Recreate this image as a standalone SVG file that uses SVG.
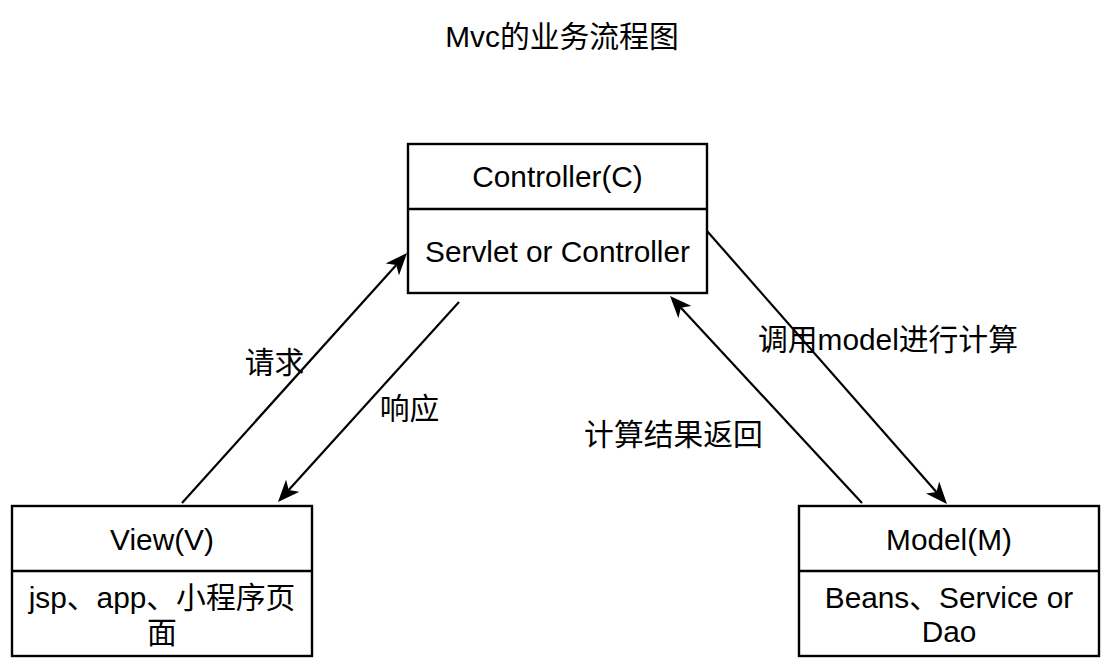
<svg xmlns="http://www.w3.org/2000/svg" width="1115" height="670" viewBox="0 0 1115 670">
<style>
text{font-family:"Liberation Sans","Noto Sans CJK SC",Arial,sans-serif;font-size:29.8px;fill:#000;text-anchor:middle}
.box{fill:#fff;stroke:#000;stroke-width:2.4}
.div{stroke:#000;stroke-width:2.4}
.edge{stroke:#000;stroke-width:2.2;fill:none;marker-end:url(#arr)}
</style>
<defs>
<marker id="arr" markerUnits="userSpaceOnUse" viewBox="0 0 22 18" markerWidth="22" markerHeight="18" refX="6" refY="9" orient="auto">
<path d="M0,0 L22,9 L0,18 L6,9 Z" fill="#000"/>
</marker>
</defs>
<rect width="1115" height="670" fill="#fff"/>
<text id="title" x="562" y="47">Mvc的业务流程图</text>
<g id="connectors">
<line class="edge" x1="182" y1="503" x2="396.3" y2="264.9"/>
<line class="edge" x1="459" y1="302" x2="288.7" y2="490.1"/>
<line class="edge" x1="707" y1="231" x2="936.4" y2="492"/>
<line class="edge" x1="862" y1="503" x2="680.9" y2="307.7"/>
<text x="274.5" y="373">请求</text>
<text x="409.5" y="419">响应</text>
<text x="888" y="350">调用model进行计算</text>
<text x="673.5" y="445">计算结果返回</text>
</g>
<g id="controller">
<rect class="box" x="408" y="144" width="299" height="149"/>
<line class="div" x1="408" y1="209" x2="707" y2="209"/>
<text x="557.5" y="187">Controller(C)</text>
<text x="557.5" y="262">Servlet or Controller</text>
</g>
<g id="view">
<rect class="box" x="12" y="506" width="300" height="150"/>
<line class="div" x1="12" y1="571" x2="312" y2="571"/>
<text x="162" y="550">View(V)</text>
<text x="162" y="608">jsp、app、小程序页</text>
<text x="162" y="643">面</text>
</g>
<g id="model">
<rect class="box" x="799" y="506" width="300" height="150"/>
<line class="div" x1="799" y1="571" x2="1099" y2="571"/>
<text x="949" y="550">Model(M)</text>
<text x="949" y="608">Beans、Service or</text>
<text x="949" y="642">Dao</text>
</g>
</svg>
